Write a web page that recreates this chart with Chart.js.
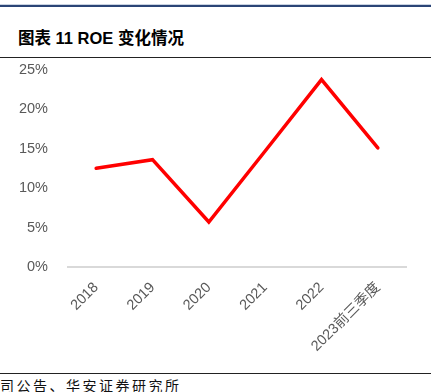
<!DOCTYPE html>
<html>
<head>
<meta charset="utf-8">
<script src="https://cdn.jsdelivr.net/npm/chart.js@4.4.1/dist/chart.umd.min.js"></script>
<style>
  html, body { margin: 0; padding: 0; background: #fff; }
  body { width: 431px; height: 392px; position: relative; overflow: hidden; }
  .topline { position: absolute; left: 0; top: 4px; width: 431px; height: 2px; background: #2b4576; border-top: 1px solid #c9d3e2; }
  .title { position: absolute; left: 18px; top: 25px; font: bold 16.5px "Liberation Sans", Arial, "Noto Sans CJK SC", sans-serif; color: #000; white-space: nowrap; }
  .rule { position: absolute; left: 0; width: 431px; height: 1px; background: #222; }
  .source { position: absolute; left: 0; top: 375px; font: 14px "Noto Sans CJK SC", sans-serif; letter-spacing: 2.5px; color: #111; white-space: nowrap; }
  .wrap { position: absolute; left: 0; top: 49px; width: 431px; height: 321px; }
</style>
</head>
<body>
<div class="topline"></div>
<div class="title">图表 11 ROE 变化情况</div>
<div class="rule" style="top:57px"></div>
<div class="wrap"><canvas id="c"></canvas></div>
<div class="rule" style="top:373px"></div>
<div class="source">司公告、华安证券研究所</div>
<script>
  // ROE by year, in percent
  const years = ["2018", "2019", "2020", "2021", "2022", "2023前三季度"];
  const roe = [12.5, 13.6, 5.7, 14.7, 23.75, 15.1];
  const yTicks = [0, 5, 10, 15, 20, 25];

  const tickFont = { family: "'Liberation Sans', Arial, 'Noto Sans CJK SC', sans-serif", size: 14.5 };

  new Chart(document.getElementById("c").getContext("2d"), {
    type: "line",
    data: {
      labels: years,
      datasets: [{
        data: roe,
        borderColor: "#ff0000",
        borderWidth: 3.5,
        borderCapStyle: "round",
        borderJoinStyle: "miter",
        pointRadius: 0,
        tension: 0,
      }],
    },
    options: {
      responsive: true,
      maintainAspectRatio: false,
      animation: false,
      layout: { padding: { top: 7, right: 25, left: 0, bottom: 0 } },
      plugins: { legend: { display: false }, tooltip: { enabled: false } },
      scales: {
        y: {
          min: 0,
          max: 25,
          afterFit: (s) => { s.width = 68; },
          afterBuildTicks: (s) => { s.ticks = yTicks.map((v) => ({ value: v })); },
          grid: { display: false },
          border: { display: false },
          ticks: {
            color: "#595959",
            font: tickFont,
            padding: 12,
            callback: (v) => v + "%",
          },
        },
        x: {
          offset: true,
          afterFit: (s) => { s.height = 103; },
          grid: { display: false, offset: true },
          border: { display: true, color: "#d9d9d9", width: 2 },
          ticks: {
            color: "#595959",
            font: tickFont,
            minRotation: 45,
            maxRotation: 45,
            padding: 4,
          },
        },
      },
    },
  });
</script>
</body>
</html>
